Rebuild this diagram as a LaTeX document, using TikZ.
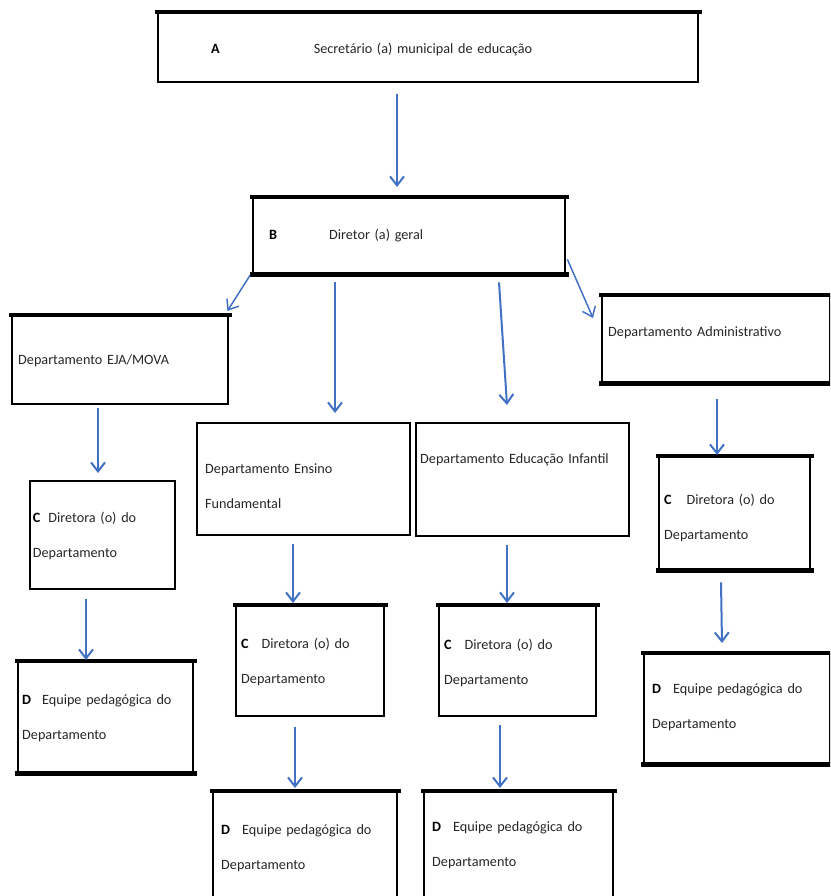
\documentclass[tikz,border=0pt]{standalone}
\usepackage{fontspec}
\setmainfont{Carlito}
\usetikzlibrary{arrows.meta}
\definecolor{arrowblue}{RGB}{66,113,196}
\definecolor{textgray}{RGB}{38,38,38}
\newcommand{\orgtag}[1]{{\color{black}\bfseries #1}}
\newcommand{\orgfont}{\fontsize{14.2}{35}\selectfont}

\begin{document}
\begin{tikzpicture}[x=1pt,y=-1pt,>={Straight Barb[length=9pt,width=14pt]},
  orgbox/.style={draw,line width=2.4pt,anchor=north west,inner ysep=0pt,text=textgray,font=\orgfont},
  heavy/.style={line width=4.6pt,line cap=rect},
  link/.style={->,draw=arrowblue,line width=2pt},
  slant/.style={link,line width=1.5pt}]

            \useasboundingbox (0,0) rectangle (830,896);
            \clip (0,0) rectangle (830,896);

            \node[orgbox,inner xsep=53pt,text width=434pt,text height=40pt,text depth=29pt] (sec) at (157,12) {\orgtag{A}\hspace{94pt}Secretário (a) municipal de educação};
            \node[orgbox,inner xsep=16pt,text width=280pt,text height=41pt,text depth=34pt] (dir) at (252,197) {\orgtag{B}\hspace{52pt}Diretor (a) geral};

            % departamentos
            \node[orgbox,inner xsep=6pt,text width=204pt,text height=48pt,text depth=40pt] (eja) at (11,315) {Departamento EJA/MOVA};
            \node[orgbox,inner xsep=8pt,text width=197pt,text height=50pt,text depth=62pt] (ef) at (196,422) {Departamento Ensino\\Fundamental};
            \node[orgbox,inner xsep=4pt,text width=205pt,text height=40pt,text depth=73pt] (ei) at (415,422) {Departamento Educação Infantil};
            \node[orgbox,inner xsep=6pt,text width=216pt,text height=40pt,text depth=46pt] (adm) at (601,295) {Departamento Administrativo};

            % diretoras
            \node[orgbox,line width=1.8pt,inner xsep=3pt,text width=139pt,text height=42pt,text depth=66pt] (ejaC) at (29,480) {\orgtag{C}\hspace{8pt}Diretora (o) do\\Departamento};
            \node[orgbox,inner xsep=5pt,text width=138pt,text height=42pt,text depth=68pt] (efC) at (235,605) {\orgtag{C}\hspace{13pt}Diretora (o) do\\Departamento};
            \node[orgbox,inner xsep=5pt,text width=147pt,text height=43pt,text depth=67pt] (eiC) at (438,605) {\orgtag{C}\hspace{13pt}Diretora (o) do\\Departamento};
            \node[orgbox,inner xsep=5pt,text width=141pt,text height=47pt,text depth=65pt] (admC) at (658,456) {\orgtag{C}\hspace{15pt}Diretora (o) do\\Departamento};

            % equipes
            \node[orgbox,inner xsep=4pt,text width=167pt,text height=42pt,text depth=68pt] (ejaD) at (17,661) {\orgtag{D}\hspace{11pt}Equipe pedagógica do\\Departamento};
            \node[orgbox,inner xsep=8pt,text width=168pt,text height=42pt,text depth=87pt] (efD) at (212,791) {\orgtag{D}\hspace{12pt}Equipe pedagógica do\\Departamento};
            \node[orgbox,inner xsep=8pt,text width=173pt,text height=39pt,text depth=90pt] (eiD) at (423,791) {\orgtag{D}\hspace{12pt}Equipe pedagógica do\\Departamento};
            \node[orgbox,inner xsep=8pt,text width=170pt,text height=39pt,text depth=70pt] (admD) at (643,653) {\orgtag{D}\hspace{12pt}Equipe pedagógica do\\Departamento};

            \foreach \n in {sec,dir,eja,adm,efC,eiC,admC,ejaD,efD,eiD,admD}
                \draw[heavy] (\n.north west) -- (\n.north east);
            \foreach \n in {dir,adm,admC,ejaD,admD}
                \draw[heavy] (\n.south west) -- (\n.south east);

            \draw[link] ([shift={(240,11)}]sec.south west) -- ([shift={(145,-10)}]dir.north west);
            \draw[slant] ([shift={(-2,1)}]dir.south west) -- ([shift={(-2,-4)}]eja.north east);
            \draw[link] ([shift={(83,8)}]dir.south west) -- ([shift={(139,-9)}]ef.north west);
            \draw[link] ([shift={(247,8)}]dir.south west) -- ([shift={(92,-17)}]ei.north west);
            \draw[slant] ([shift={(1,-15)}]dir.south east) -- ([shift={(-8,23)}]adm.north west);

            \draw[link] ([shift={(87,3)}]eja.south west) -- ([shift={(69,-7)}]ejaC.north west);
            \draw[link] ([shift={(57,9)}]ejaC.south west) -- ([shift={(69,-1)}]ejaD.north west);
            \draw[link] ([shift={(97,8)}]ef.south west) -- ([shift={(58,-2)}]efC.north west);
            \draw[link] ([shift={(60,10)}]efC.south west) -- ([shift={(83,-3)}]efD.north west);
            \draw[link] ([shift={(92,8)}]ei.south west) -- ([shift={(69,-2)}]eiC.north west);
            \draw[link] ([shift={(62,8)}]eiC.south west) -- ([shift={(77,-3)}]eiD.north west);
            \draw[link] ([shift={(116,16)}]adm.south west) -- ([shift={(59,-1)}]admC.north west);
            \draw[link] ([shift={(63,12)}]admC.south west) -- ([shift={(79,-10)}]admD.north west);

\end{tikzpicture}
\end{document}
